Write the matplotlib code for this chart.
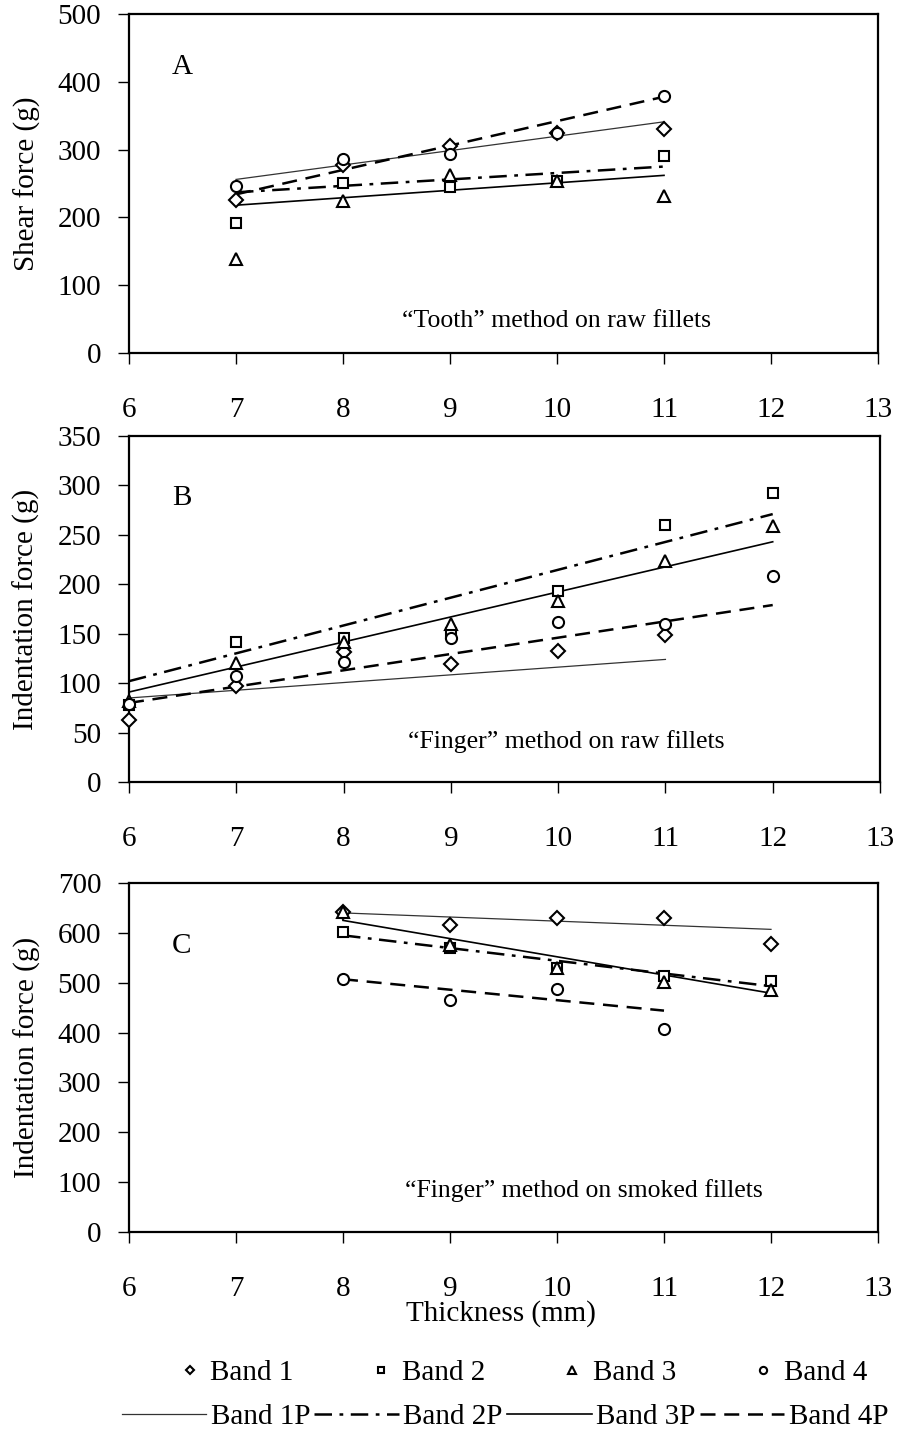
import matplotlib
matplotlib.use('Agg')
import matplotlib.pyplot as plt

plt.rcParams['font.family'] = ['Liberation Serif', 'DejaVu Serif']

# ---------------- data ----------------
bands = ['Band 1', 'Band 2', 'Band 3', 'Band 4']
fit_labels = ['Band 1P', 'Band 2P', 'Band 3P', 'Band 4P']

# Panel A: "Tooth" method on raw fillets
a_x = [7, 8, 9, 10, 11]
a_band1 = [226, 277, 306, 325, 330]
a_band2 = [192, 251, 245, 254, 290]
a_band3 = [139, 224, 262, 253, 232]
a_band4 = [247, 286, 293, 325, 379]
a_fit_x = [7, 11]
a_fit1 = [256, 341]
a_fit2 = [237, 275]
a_fit3 = [218, 262]
a_fit4 = [234, 378]

# Panel B: "Finger" method on raw fillets
b_x = [6, 7, 8, 9, 10, 11, 12]
b_band1 = [63, 97, 132, 119, 133, 149]          # 6..11
b_band2 = [78, 142, 146, 151, 193, 260, 292]
b_band3 = [82, 120, 142, 160, 183, 224, 259]
b_band4 = [79, 107, 121, 146, 162, 160, 208]
b_fit1_x = [6, 11]
b_fit1 = [85, 124]
b_fit_x = [6, 12]
b_fit2 = [102, 271]
b_fit3 = [91, 243]
b_fit4 = [80, 179]

# Panel C: "Finger" method on smoked fillets
c_x = [8, 9, 10, 11, 12]
c_band1 = [641, 615, 629, 629, 578]
c_band2 = [601, 570, 530, 513, 503]
c_band3 = [642, 575, 530, 501, 486]
c_band4 = [507, 466, 488, 407]                   # 8..11
c_fit_x = [8, 12]
c_fit1 = [640, 607]
c_fit2 = [595, 493]
c_fit3 = [625, 479]
c_fit4_x = [8, 11]
c_fit4 = [507, 444]

x_ticks = [6, 7, 8, 9, 10, 11, 12, 13]

# ---------------- styles ----------------
W, H = 897, 1433
fig = plt.figure(figsize=(W / 100, H / 100), dpi=100)

markers = ['D', 's', '^', 'o']
msizes = [7, 7.5, 8.5, 8]
fit_styles = [
    dict(color='#333333', lw=0.9, ls='-'),
    dict(color='black', lw=1.8, ls=(0, (7, 3, 1.5, 3))),
    dict(color='black', lw=1.2, ls='-'),
    dict(color='black', lw=1.8, ls=(0, (6, 3.5))),
]

FS = 21
ANN = 18.5


def make_ax(top_px, bot_px, right_px=878):
    left = 129 / W
    ax = fig.add_axes([left, 1 - bot_px / H, right_px / W - left, (bot_px - top_px) / H])
    for s in ax.spines.values():
        s.set_linewidth(1.6)
    ax.tick_params(direction='out', length=8, width=1.0, labelsize=FS)
    ax.tick_params(axis='x', pad=24)
    ax.tick_params(axis='y', pad=12)
    ax.set_xlim(6, 13)
    ax.set_xticks(x_ticks)
    return ax


def draw(ax, xs_list, ys_list, fx_list, fy_list):
    pts, lines = [], []
    for i in range(4):
        h, = ax.plot(xs_list[i], ys_list[i], ls='none', marker=markers[i], ms=msizes[i],
                     mfc='white', mec='black', mew=1.5, label=bands[i], zorder=3,
                     clip_on=False)
        pts.append(h)
    for i in range(4):
        l, = ax.plot(fx_list[i], fy_list[i], label=fit_labels[i], zorder=2, **fit_styles[i])
        lines.append(l)
    return pts, lines


# Panel A
axA = make_ax(14, 353)
draw(axA, [a_x] * 4, [a_band1, a_band2, a_band3, a_band4],
     [a_fit_x] * 4, [a_fit1, a_fit2, a_fit3, a_fit4])
axA.set_ylim(0, 500)
axA.set_yticks(range(0, 501, 100))
axA.set_ylabel('Shear force (g)', fontsize=FS)
axA.yaxis.set_label_coords(-0.118, 0.5)
axA.text(0.057, 0.845, 'A', transform=axA.transAxes, fontsize=FS, ha='left', va='center')
axA.text(8.55, 47, '\u201cTooth\u201d method on raw fillets', fontsize=ANN, ha='left', va='center')

# Panel B
axB = make_ax(436, 782, 880)
draw(axB, [b_x[:6], b_x, b_x, b_x], [b_band1, b_band2, b_band3, b_band4],
     [b_fit1_x, b_fit_x, b_fit_x, b_fit_x], [b_fit1, b_fit2, b_fit3, b_fit4])
axB.set_ylim(0, 350)
axB.set_yticks(range(0, 351, 50))
axB.set_ylabel('Indentation force (g)', fontsize=FS)
axB.yaxis.set_label_coords(-0.118, 0.5)
axB.text(0.057, 0.82, 'B', transform=axB.transAxes, fontsize=FS, ha='left', va='center')
axB.text(8.6, 41, '\u201cFinger\u201d method on raw fillets', fontsize=ANN, ha='left', va='center')

# Panel C
axC = make_ax(883, 1232)
pts, lines = draw(axC, [c_x, c_x, c_x, c_x[:4]], [c_band1, c_band2, c_band3, c_band4],
                  [c_fit_x, c_fit_x, c_fit_x, c_fit4_x], [c_fit1, c_fit2, c_fit3, c_fit4])
axC.set_ylim(0, 700)
axC.set_yticks(range(0, 701, 100))
axC.set_ylabel('Indentation force (g)', fontsize=FS)
axC.yaxis.set_label_coords(-0.118, 0.5)
axC.text(0.057, 0.82, 'C', transform=axC.transAxes, fontsize=FS, ha='left', va='center')
axC.text(8.58, 84, '\u201cFinger\u201d method on smoked fillets', fontsize=ANN, ha='left', va='center')

fig.text(501 / W, 1 - 1314 / H, 'Thickness (mm)', fontsize=FS, ha='center', va='center')

# Legends
leg1 = fig.legend(handles=pts, labels=bands, loc='center', ncol=4, frameon=False,
                  bbox_to_anchor=(522 / W, 1 - 1373 / H), fontsize=FS,
                  markerscale=0.65, handlelength=0.9, handletextpad=0.25, columnspacing=2.55)
leg2 = fig.legend(handles=lines, labels=fit_labels, loc='center', ncol=4, frameon=False,
                  bbox_to_anchor=(505 / W, 1 - 1417 / H), fontsize=FS,
                  handlelength=2.9, handletextpad=0.15, columnspacing=0.15)

fig.savefig('out.png', dpi=100)
